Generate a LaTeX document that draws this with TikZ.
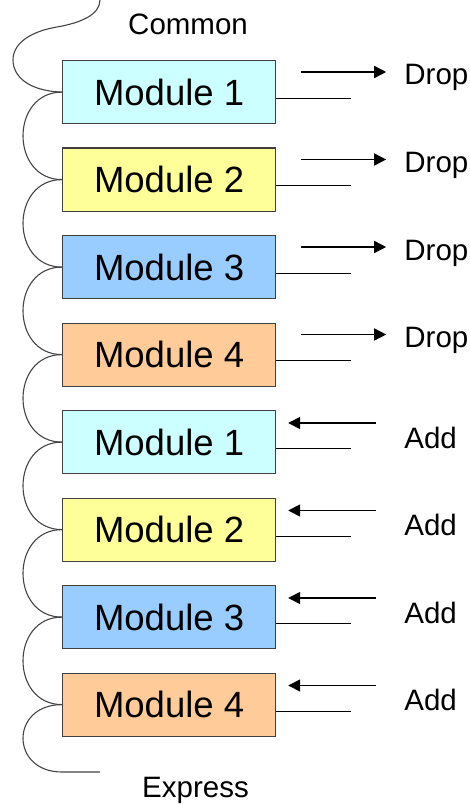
\documentclass[tikz,border=0pt]{standalone}
\usepackage{fontspec}
\setmainfont{Liberation Sans}
\usetikzlibrary{arrows.meta}
\definecolor{cA}{HTML}{CCFFFF}
\definecolor{cB}{HTML}{FFFF99}
\definecolor{cC}{HTML}{99CCFF}
\definecolor{cD}{HTML}{FFCC99}
\definecolor{boxline}{HTML}{404040}
\definecolor{curvecol}{HTML}{444444}
\begin{document}
\begin{tikzpicture}[x=1pt,y=-1pt,
  modbox/.style={draw=boxline, line width=1.2pt, minimum width=213pt, minimum height=63pt,
    inner sep=0pt, anchor=north west, font=\fontsize{36.5}{40}\selectfont},
  lbl/.style={anchor=base west, inner sep=0pt, font=\fontsize{29.5}{32}\selectfont},
  wire/.style={line width=1.1pt, draw=black},
  fiberline/.style={line width=1.1pt, draw=curvecol},
  arr/.style={line width=1.5pt, -{Triangle[length=12pt,width=12pt]}},
]
\useasboundingbox (0,0) rectangle (470,805);
\foreach \i/\c/\t in {1/cA/Module 1,2/cB/Module 2,3/cC/Module 3,4/cD/Module 4,
                      5/cA/Module 1,6/cB/Module 2,7/cC/Module 3,8/cD/Module 4}
  \node[modbox, fill=\c] (m\i) at (62, {60+87.5*(\i-1)}) {\t};
% right side
\foreach \i in {1,...,4}{
  \draw[wire] ([yshift=-6pt]m\i.east) -- ++(75,0);
  \draw[arr] ([xshift=25pt,yshift=-12pt]m\i.north east) -- ++(85,0);
  \node[lbl] (d\i) at ([xshift=128pt,yshift=-25pt]m\i.north east) {Drop};
}
\foreach \i in {5,...,8}{
  \draw[wire] ([yshift=-6.5pt]m\i.east) -- ++(75,0);
  \draw[arr] ([xshift=100pt,yshift=-13pt]m\i.north east) -- ++(-88,0);
  \node[lbl] (a\i) at ([xshift=128pt,yshift=-38pt]m\i.north east) {Add};
}
% left curves
\foreach \i [evaluate=\i as \j using int(\i+1)] in {1,...,7}
  \draw[fiberline] (m\i.west) .. controls +(-52,0) and +(-52,0) .. (m\j.west);
\coordinate (ctop) at (100,0);
\draw[fiberline] (m1.west) .. controls (28,91) and (13,76) .. (13,60)
  .. controls (13,42) and (33,31) .. (57,27)
  .. controls (80,23) and (100,15) .. (ctop);
\coordinate (e1) at (62,772);
\coordinate (e2) at (100,772);
\draw[fiberline] (m8.west) .. controls +(-52,0) and +(-52,0) .. (e1) -- (e2);
\node[lbl] (common) at (128,35) {Common};
\node[lbl] (express) at (142,797) {Express};
\end{tikzpicture}
\end{document}
